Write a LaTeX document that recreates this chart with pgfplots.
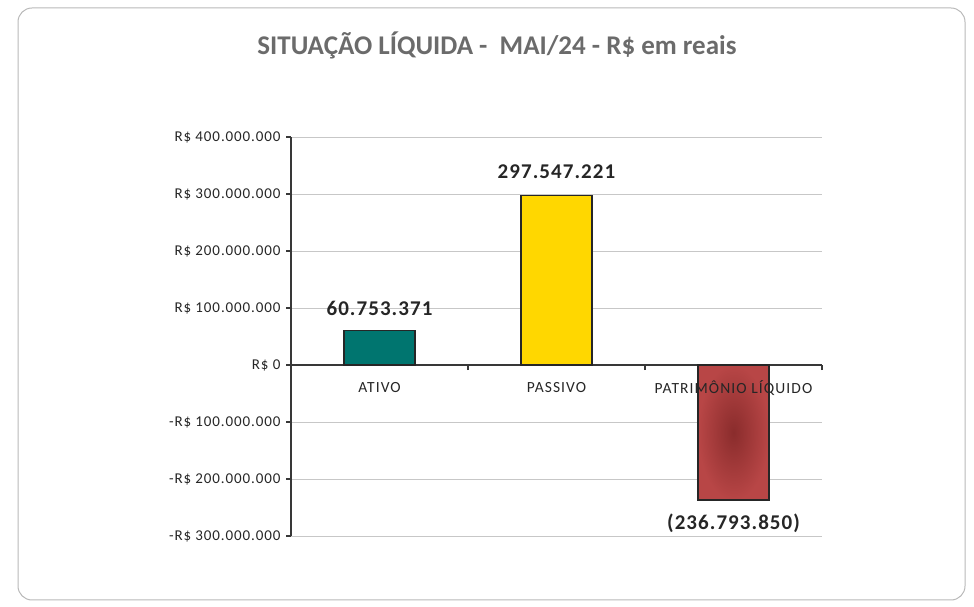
\documentclass[border=0pt]{standalone}
\usepackage{pgfplots}
\pgfplotsset{compat=1.18}
\usepackage{fontspec}
\setmainfont{Carlito}
\definecolor{ativoCol}{HTML}{00756F}
\definecolor{passivoCol}{HTML}{FFD700}
\definecolor{plIn}{HTML}{8A2C2C}
\definecolor{plOut}{HTML}{B84646}
\definecolor{titleCol}{HTML}{6B6B6B}
\definecolor{txtCol}{HTML}{262626}
\newcommand\tickfont{\fontsize{15bp}{16bp}\selectfont\addfontfeatures{LetterSpace=6}}
\newcommand\catfont{\fontsize{15.5bp}{16bp}\selectfont\addfontfeatures{LetterSpace=7}}
\newcommand\valfont{\fontsize{21bp}{22bp}\selectfont\bfseries\addfontfeatures{LetterSpace=5}}

\begin{document}
\begin{tikzpicture}
\path[use as bounding box] (0,0) rectangle (974bp,607bp);
\draw[black!28, line width=1bp, rounded corners=14bp] (18bp,7bp) rectangle (965bp,599bp);
\node[text=titleCol, font=\fontsize{27bp}{28bp}\selectfont\bfseries] at (497bp,562bp)
  {SITUAÇÃO LÍQUIDA -\ \ MAI/24 - R\$ em reais};
\begin{axis}[
  scale only axis, width=531bp, height=399bp,
  at={(291bp,71bp)}, anchor=south west,
  xmin=-0.5, xmax=2.5, ymin=-300000000, ymax=400000000,
  axis y line=left, axis x line=middle,
  axis line style={-, black!78, line width=1.3bp},
  tick style={black!78, line width=1.1bp},
  major tick length=5bp, tick align=outside,
  xtick={0.5,1.5,2.5}, xticklabels={},
  ytick={-300000000,-200000000,-100000000,0,100000000,200000000,300000000,400000000},
  yticklabels={-R\$ 300.000.000,-R\$ 200.000.000,-R\$ 100.000.000,R\$ 0,R\$ 100.000.000,R\$ 200.000.000,R\$ 300.000.000,R\$ 400.000.000},
  scaled y ticks=false,
  yticklabel style={font=\tickfont, text=txtCol, xshift=-2bp},
  ymajorgrids, grid style={black!22, line width=1bp},
  clip=false,
]
\addplot[ybar, bar width=71bp, bar shift=0pt, fill=ativoCol, draw=black!85, line width=1.1bp]
  coordinates {(0,60753371)};
\addplot[ybar, bar width=71bp, bar shift=0pt, fill=passivoCol, draw=black!85, line width=1.1bp]
  coordinates {(1,297547221)};
\addplot[ybar, bar width=71bp, bar shift=0pt, inner color=plIn, outer color=plOut, draw=black!85, line width=1.1bp]
  coordinates {(2,-236793850)};
\node[font=\valfont, text=txtCol] at (axis cs:0,60753371) [yshift=22bp] {60.753.371};
\node[font=\valfont, text=txtCol] at (axis cs:1,297547221) [yshift=24bp] {297.547.221};
\node[font=\valfont, text=txtCol] at (axis cs:2,-236793850) [yshift=-23bp] {(236.793.850)};
\node[font=\catfont, text=txtCol] at (axis cs:0,0) [yshift=-23bp] {ATIVO};
\node[font=\catfont, text=txtCol] at (axis cs:1,0) [yshift=-23bp] {PASSIVO};
\node[font=\catfont, text=txtCol] at (axis cs:2,0) [yshift=-23bp] {PATRIMÔNIO LÍQUIDO};
\end{axis}
\end{tikzpicture}
\end{document}
